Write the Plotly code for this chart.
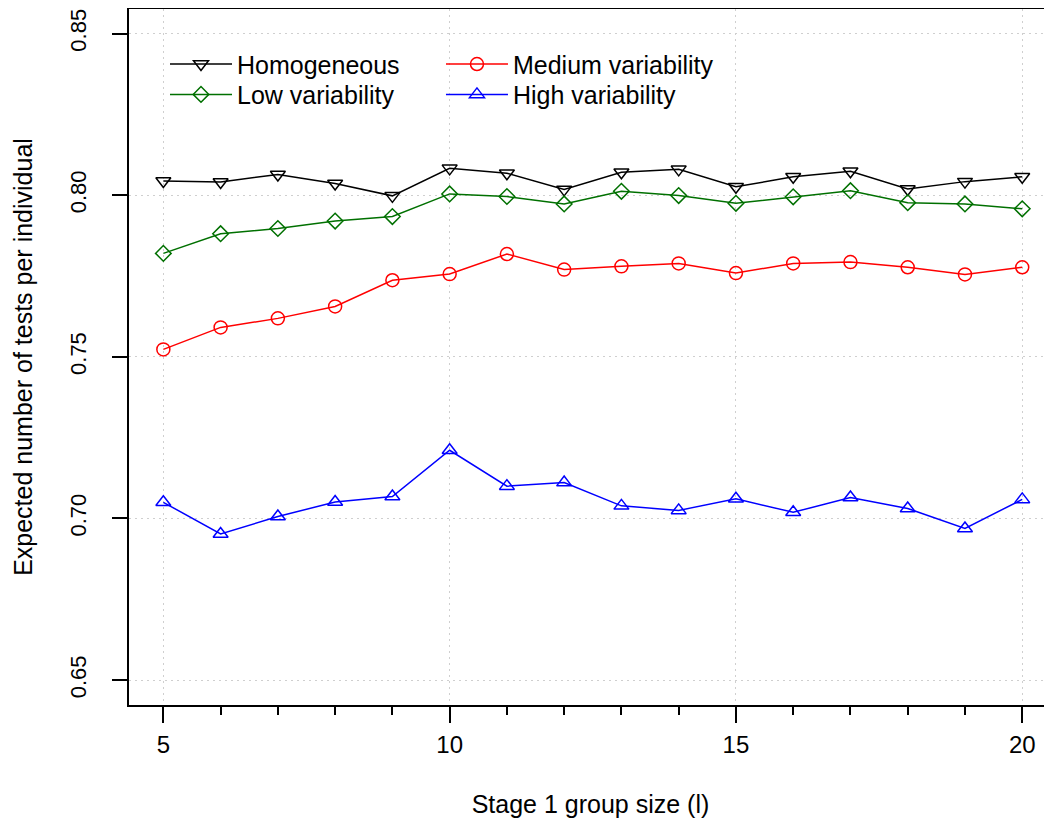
import plotly.graph_objects as go

# ---- data ----
group_size = list(range(5, 21))
homogeneous = [0.8044, 0.8041, 0.8064, 0.8036, 0.7998, 0.8083, 0.8068, 0.8018,
               0.8071, 0.8080, 0.8026, 0.8057, 0.8074, 0.8019, 0.8042, 0.8057]
low_var = [0.7820, 0.7881, 0.7897, 0.7920, 0.7934, 0.8004, 0.7996, 0.7973,
           0.8012, 0.7999, 0.7975, 0.7995, 0.8014, 0.7977, 0.7973, 0.7958]
medium_var = [0.7523, 0.7591, 0.7619, 0.7656, 0.7737, 0.7756, 0.7818, 0.7770,
              0.7780, 0.7789, 0.7759, 0.7789, 0.7793, 0.7777, 0.7755, 0.7777]
high_var = [0.7050, 0.6952, 0.7006, 0.7051, 0.7068, 0.7211, 0.7100, 0.7111,
            0.7039, 0.7025, 0.7061, 0.7019, 0.7065, 0.7031, 0.6969, 0.7059]

x_ticks = [5, 10, 15, 20]
y_ticks = [0.65, 0.70, 0.75, 0.80, 0.85]
y_ticklabels = ["0.65", "0.70", "0.75", "0.80", "0.85"]

FONT = "Liberation Sans, Arial, Helvetica, sans-serif"
GRID = dict(showgrid=True, gridcolor="#cfcfcf", griddash="2px,4px", gridwidth=1)

# name, values, colour, symbol, size, legend id
series = [
    ("Homogeneous", homogeneous, "black", "triangle-down-open", 13, "legend"),
    ("Low variability", low_var, "#007000", "diamond-open", 12, "legend2"),
    ("Medium variability", medium_var, "#FF0000", "circle-open", 13, "legend3"),
    ("High variability", high_var, "#0000FF", "triangle-up-open", 13, "legend4"),
]

fig = go.Figure()
for name, vals, col, sym, sz, leg in series:
    fig.add_trace(go.Scatter(
        x=group_size, y=vals, mode="lines+markers", name=name,
        line=dict(color=col, width=1.5),
        marker=dict(symbol=sym, size=sz, color=col, line=dict(width=1.5, color=col)),
        legend=leg,
    ))

def leg(x, y):
    return dict(x=x, y=y, xanchor="left", yanchor="top",
                bgcolor="rgba(0,0,0,0)", font=dict(size=25, family=FONT, color="black"),
                itemwidth=62, tracegroupgap=0)

col1, col2 = 0.039, 0.338
row1, row2 = 0.9536, 0.910

fig.update_layout(
    width=1044, height=822,
    margin=dict(l=121, r=0, t=1, b=125, autoexpand=False),
    paper_bgcolor="white", plot_bgcolor="white",
    font=dict(family=FONT, color="black"),
    showlegend=True,
    legend=leg(col1, row1),
    legend2=leg(col1, row2),
    legend3=leg(col2, row1),
    legend4=leg(col2, row2),
)

fig.update_xaxes(
    range=[4.40, 20.52], tickvals=x_ticks, ticks="outside", ticklen=16, tickwidth=1.5,
    tickcolor="black", showline=True, linecolor="black", linewidth=1.5, mirror=True,
    zeroline=False, **GRID,
    minor=dict(dtick=1, tick0=5, ticks="outside", ticklen=8, tickwidth=1.5,
               tickcolor="black", showgrid=False),
    tickfont=dict(size=24, family=FONT, color="black"),
    ticklabelstandoff=1, automargin=False, ticklabeloverflow="allow",
    title=dict(text="Stage 1 group size (l)", font=dict(size=25, family=FONT), standoff=39),
)
fig.update_yaxes(
    range=[0.6423, 0.8576], tickvals=y_ticks, ticktext=y_ticklabels, tickangle=-90,
    ticks="outside", ticklen=15, tickwidth=1.5, tickcolor="black",
    showline=True, linecolor="black", linewidth=1.5, mirror=False,
    zeroline=False, **GRID,
    tickfont=dict(size=22, family=FONT, color="black"),
    ticklabelstandoff=17, automargin=False, ticklabeloverflow="allow",
    title=dict(text="Expected number of tests per individual",
               font=dict(size=25, family=FONT), standoff=27),
)

fig.write_html("out.html")
